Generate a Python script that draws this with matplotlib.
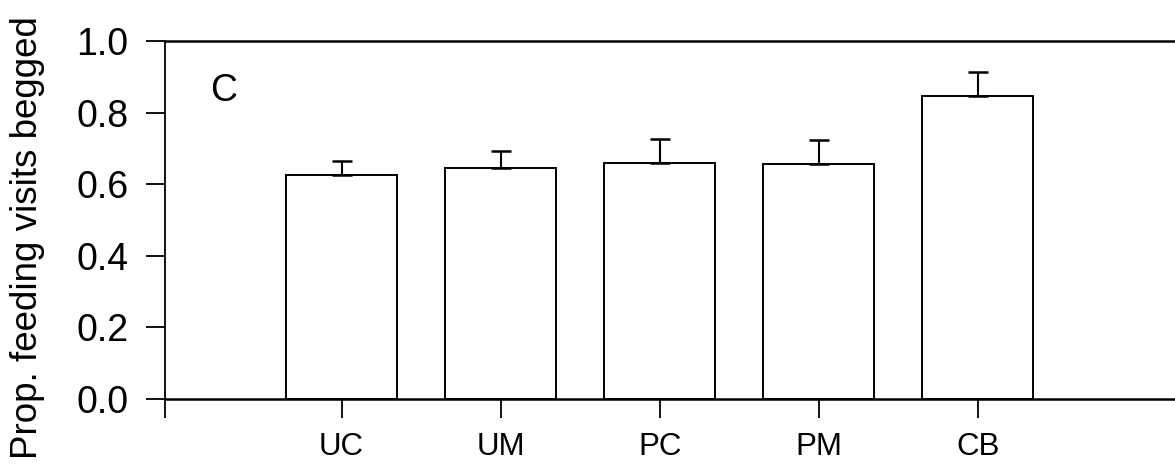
import matplotlib
matplotlib.use('Agg')
import matplotlib.pyplot as plt

# data
groups = ['UC', 'UM', 'PC', 'PM', 'CB']
positions = [1, 2, 3, 4, 5]
means = [0.626, 0.645, 0.659, 0.656, 0.846]
upper_err = [0.039, 0.048, 0.067, 0.067, 0.067]

plt.rcParams['font.family'] = ['Liberation Sans', 'DejaVu Sans']

fig = plt.figure(figsize=(11.75, 4.71), dpi=100)
ax = fig.add_axes([0.1404, 0.1529, 0.8596, 0.760])

ax.bar(positions, means, width=0.7, color='white', edgecolor='black', linewidth=1.4)
ax.errorbar(positions, means, yerr=[[0] * len(means), upper_err], fmt='none',
            ecolor='black', elinewidth=1.5, capsize=7.5, capthick=1.8)

x_left = -0.11
ax.set_xlim(x_left, 6.24)
ax.set_ylim(0, 1.0)
ax.set_xticks([x_left] + positions)
ax.set_xticklabels([''] + groups)
ax.set_yticks([0.0, 0.2, 0.4, 0.6, 0.8, 1.0])
ax.set_yticklabels(['0.0', '0.2', '0.4', '0.6', '0.8', '1.0'])

ax.tick_params(axis='both', direction='out', length=13.5, width=1.3)
ax.tick_params(axis='y', labelsize=27, pad=13)
ax.tick_params(axis='x', labelsize=22.5, pad=10)

ax.spines['right'].set_visible(False)
ax.spines['top'].set_linewidth(1.8)
ax.spines['bottom'].set_linewidth(1.8)
ax.spines['left'].set_linewidth(1.3)
for sp in ax.spines.values():
    sp.set_clip_on(False)

ax.text(0.26, 0.86, 'C', fontsize=27, ha='center', va='center')
ax.set_ylabel('Prop. feeding visits begged', fontsize=26.5)
ax.yaxis.set_label_coords(-0.119, 0.452)

fig.savefig('out.png', dpi=100)
